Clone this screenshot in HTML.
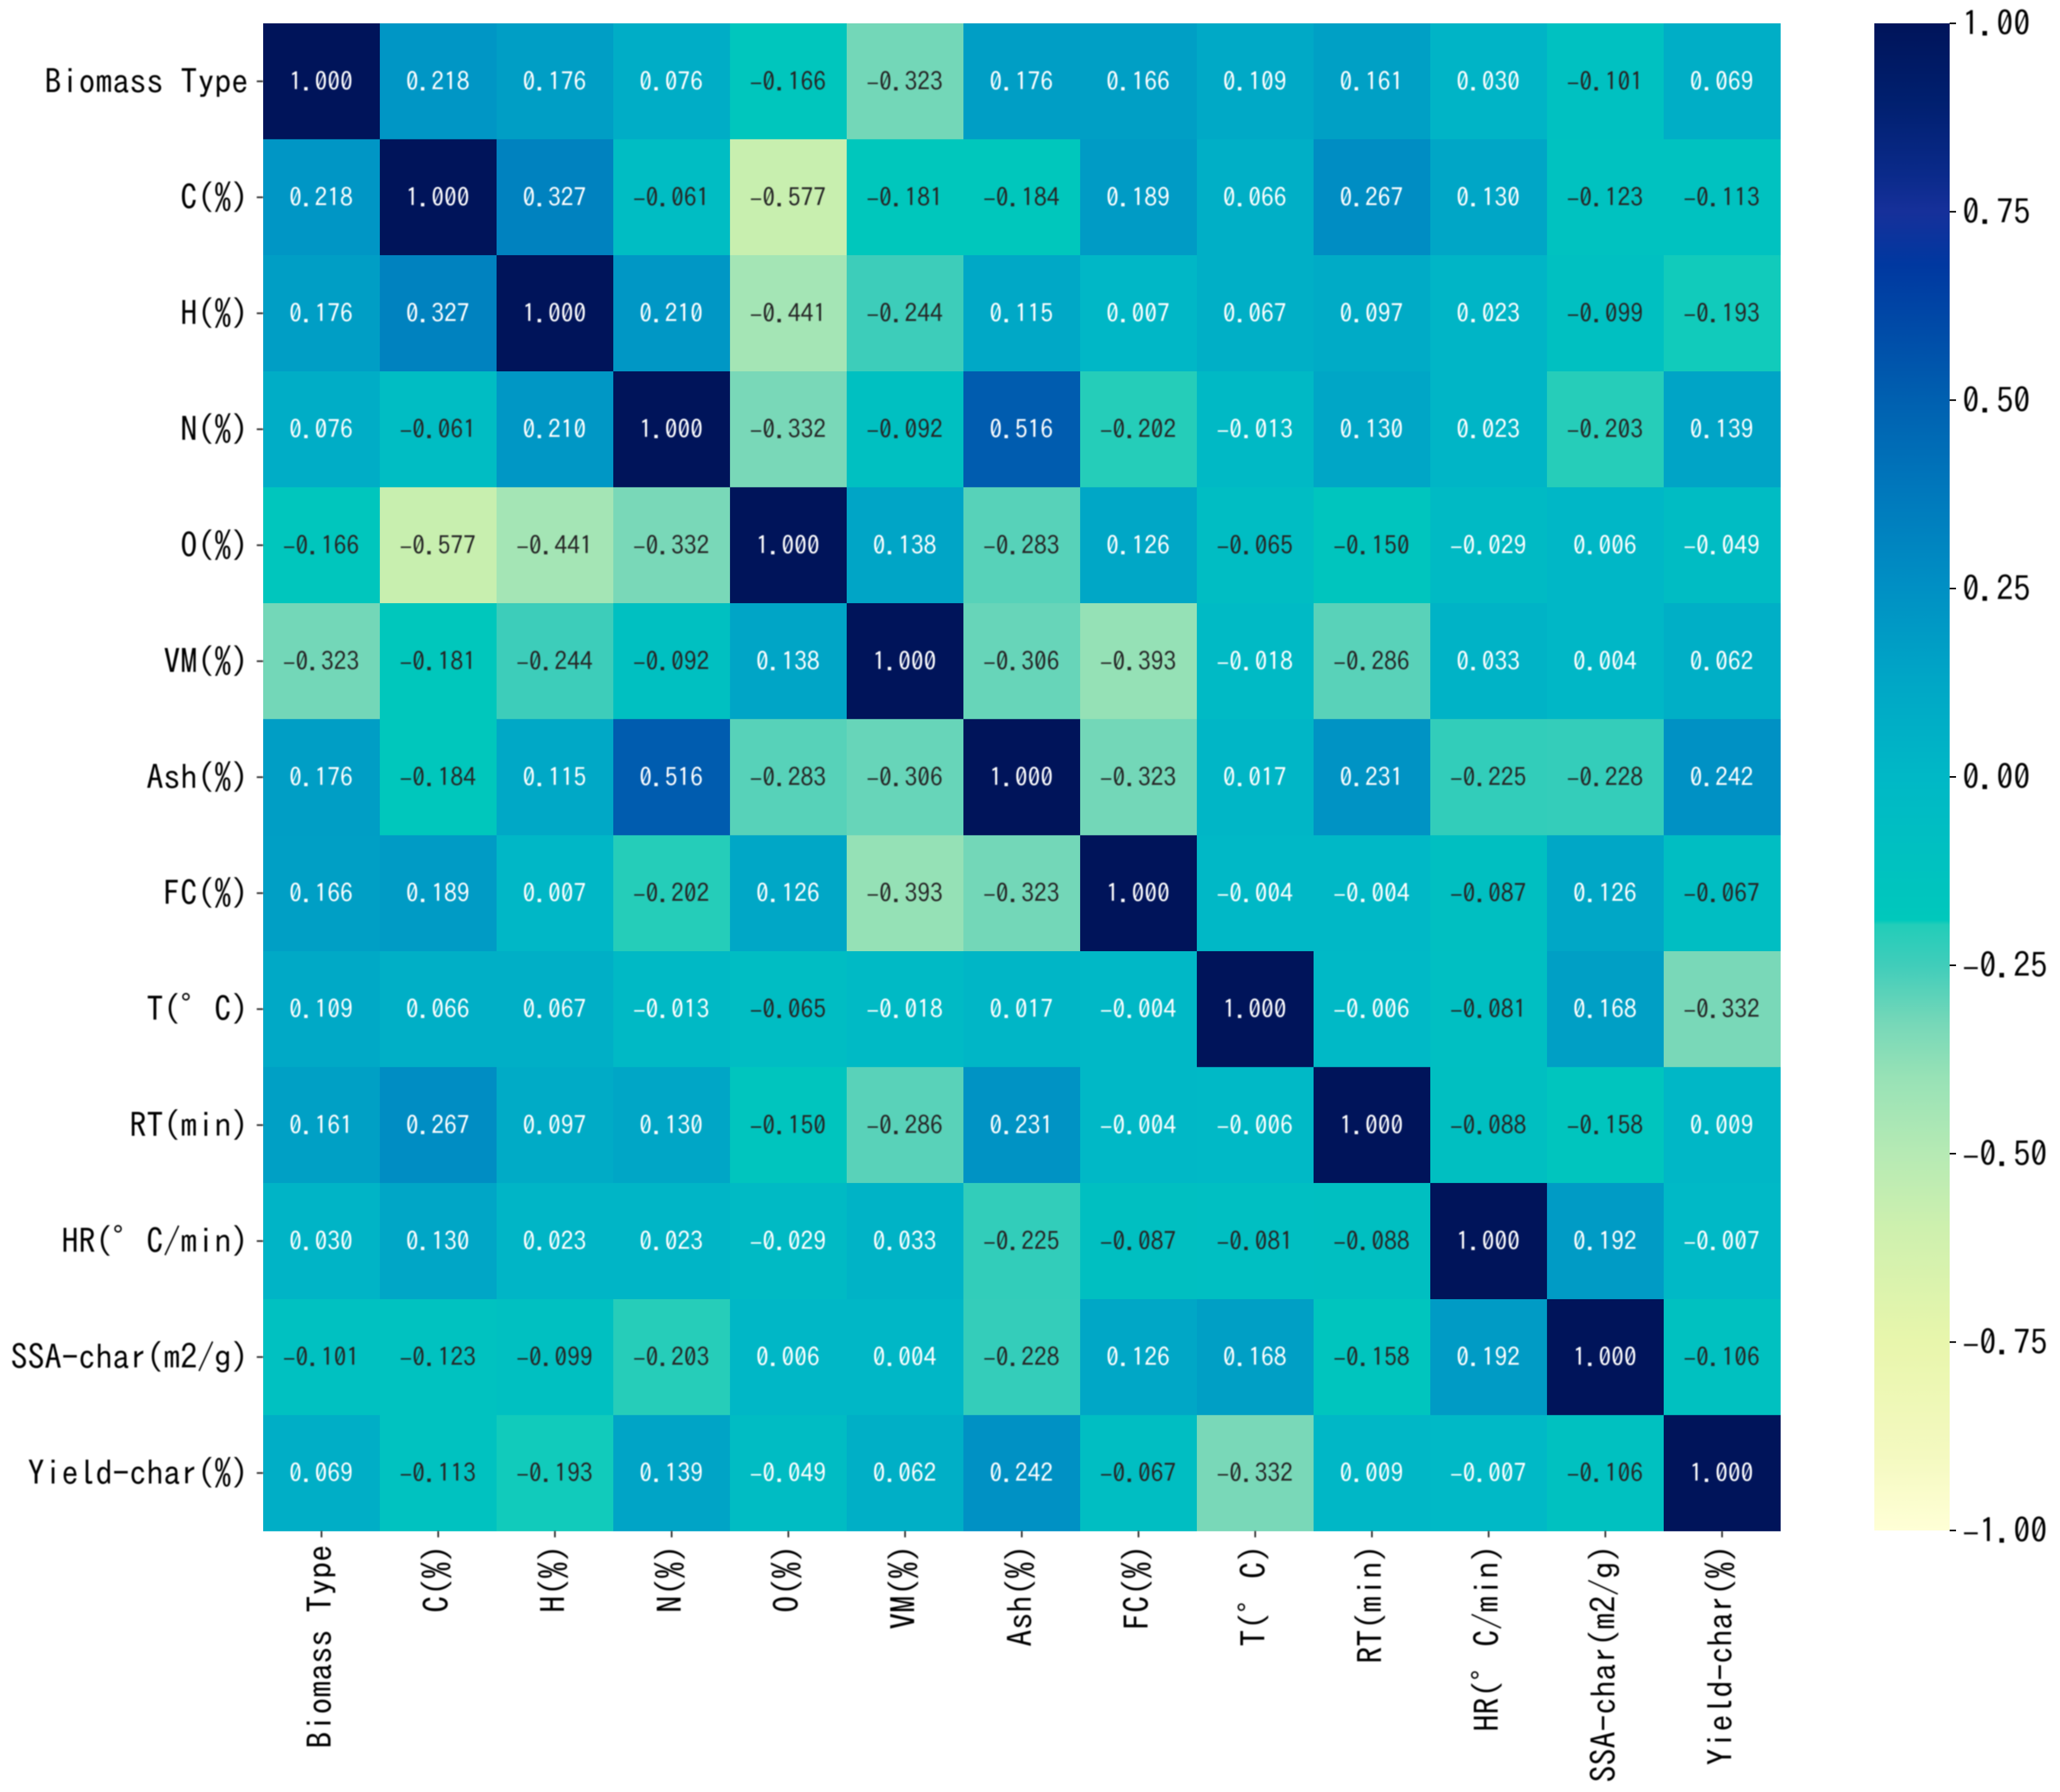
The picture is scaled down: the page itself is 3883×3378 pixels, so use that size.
<!DOCTYPE html>
<html>
<head>
<meta charset="utf-8">
<style>
html,body{margin:0;padding:0;background:#fff;width:3883px;height:3378px;overflow:hidden}
svg{display:block}
text{font-family:"IPAGothic","Liberation Mono","Noto Sans CJK JP",monospace;fill:#000}
#annots,#yaxis,#xaxis{filter:blur(1px)}
#cbar text{filter:blur(1px)}
</style>
</head>
<body>
<svg id="chart" xmlns="http://www.w3.org/2000/svg" width="3883" height="3378" viewBox="0 0 3883 3378">
<defs><linearGradient id="cbar-gradient" x1="0" y1="1" x2="0" y2="0"></linearGradient></defs>
<rect x="0" y="0" width="3883" height="3378" fill="#ffffff"/>
<g id="cells"></g>
<g id="annots"></g>
<g id="yaxis"></g>
<g id="xaxis"></g>
<g id="cbar"></g>
</svg>
<script>
const categories = ["Biomass Type","C(%)","H(%)","N(%)","O(%)","VM(%)","Ash(%)","FC(%)","T(°C)","RT(min)","HR(°C/min)","SSA-char(m2/g)","Yield-char(%)"];
const rowBiomass = [1.000,0.218,0.176,0.076,-0.166,-0.323,0.176,0.166,0.109,0.161,0.030,-0.101,0.069];
const rowC = [0.218,1.000,0.327,-0.061,-0.577,-0.181,-0.184,0.189,0.066,0.267,0.130,-0.123,-0.113];
const rowH = [0.176,0.327,1.000,0.210,-0.441,-0.244,0.115,0.007,0.067,0.097,0.023,-0.099,-0.193];
const rowN = [0.076,-0.061,0.210,1.000,-0.332,-0.092,0.516,-0.202,-0.013,0.130,0.023,-0.203,0.139];
const rowO = [-0.166,-0.577,-0.441,-0.332,1.000,0.138,-0.283,0.126,-0.065,-0.150,-0.029,0.006,-0.049];
const rowVM = [-0.323,-0.181,-0.244,-0.092,0.138,1.000,-0.306,-0.393,-0.018,-0.286,0.033,0.004,0.062];
const rowAsh = [0.176,-0.184,0.115,0.516,-0.283,-0.306,1.000,-0.323,0.017,0.231,-0.225,-0.228,0.242];
const rowFC = [0.166,0.189,0.007,-0.202,0.126,-0.393,-0.323,1.000,-0.004,-0.004,-0.087,0.126,-0.067];
const rowT = [0.109,0.066,0.067,-0.013,-0.065,-0.018,0.017,-0.004,1.000,-0.006,-0.081,0.168,-0.332];
const rowRT = [0.161,0.267,0.097,0.130,-0.150,-0.286,0.231,-0.004,-0.006,1.000,-0.088,-0.158,0.009];
const rowHR = [0.030,0.130,0.023,0.023,-0.029,0.033,-0.225,-0.087,-0.081,-0.088,1.000,0.192,-0.007];
const rowSSA = [-0.101,-0.123,-0.099,-0.203,0.006,0.004,-0.228,0.126,0.168,-0.158,0.192,1.000,-0.106];
const rowYield = [0.069,-0.113,-0.193,0.139,-0.049,0.062,0.242,-0.067,-0.332,0.009,-0.007,-0.106,1.000];
const matrix = [rowBiomass,rowC,rowH,rowN,rowO,rowVM,rowAsh,rowFC,rowT,rowRT,rowHR,rowSSA,rowYield];
const colorbarTicks = [1.00,0.75,0.50,0.25,0.00,-0.25,-0.50,-0.75,-1.00];
const cmapValues = [-1,-0.9,-0.75,-0.6,-0.5,-0.4,-0.33,-0.25,-0.196,-0.19,0,0.13,0.25,0.38,0.5,0.68,0.75,0.8,0.9,1];
const cmapColors = ["#ffffd6","#f4f9c0","#e8f6ac","#cef0ae","#b6eab4","#98e2b6","#78d8b8","#40cdba","#22cdb9","#00c8bc","#00b8c6","#00a6c6","#0090c4","#0078bc","#0060b0","#0038a0","#16309a","#0a2a8a","#001f6e","#00145a"];

const NS = "http://www.w3.org/2000/svg";
const plotLeft = 496, plotRight = 3356, plotTop = 44, plotBottom = 2886;
const barLeft = 3533, barRight = 3675, barTop = 44, barBottom = 2885;
const xScale = i => plotLeft + (plotRight - plotLeft) * i / categories.length;
const yScale = i => plotTop + (plotBottom - plotTop) * i / categories.length;
const barScale = v => barTop + (barBottom - barTop) * (1 - v) / 2;

function hexToRgb(h){return [1,3,5].map(p => parseInt(h.substr(p,2),16));}
function colorFor(v){
  let i = 0;
  while (i < cmapValues.length - 2 && v > cmapValues[i+1]) i++;
  const t = Math.max(0, Math.min(1, (v - cmapValues[i]) / (cmapValues[i+1] - cmapValues[i])));
  const a = hexToRgb(cmapColors[i]), b = hexToRgb(cmapColors[i+1]);
  return "rgb(" + a.map((c,k) => Math.round(c + (b[k]-c)*t)).join(",") + ")";
}
function make(tag, attrs){
  const el = document.createElementNS(NS, tag);
  for (const k in attrs) el.setAttribute(k, attrs[k]);
  return el;
}
/* minus glyphs come from a narrower font so each keeps a half-width cell */
function fillNumber(el, str, cell){
  if (str[0] === "\u2212") {
    const m = make("tspan", {"font-family":"Liberation Mono","font-size":cell/0.6});
    m.textContent = "\u2212";
    el.appendChild(m);
    const r = make("tspan", {});
    r.textContent = str.slice(1);
    el.appendChild(r);
  } else {
    el.textContent = str;
  }
}
function fmt(v, digits){
  const s = Math.abs(v).toFixed(digits);
  return v < 0 ? "\u2212" + s : s;
}

const cellsG = document.getElementById("cells");
const annotsG = document.getElementById("annots");
matrix.forEach((row, r) => {
  row.forEach((v, c) => {
    const rect = make("rect", {x:xScale(c), y:yScale(r), width:xScale(c+1)-xScale(c)+0.5, height:yScale(r+1)-yScale(r)+0.5, fill:colorFor(v), "shape-rendering":"crispEdges"});
    
    
    cellsG.appendChild(rect);
    const t = make("text", {x:xScale(c+0.5)-1, y:yScale(r+0.5)+17, "font-size":48, "text-anchor":"middle", style:"fill:" + (v >= -0.055 ? "#ffffff" : "#262626")});
    
    
    fillNumber(t, fmt(v,3), 24);
    annotsG.appendChild(t);
  });
});

const yG = document.getElementById("yaxis");
const xG = document.getElementById("xaxis");
categories.forEach((name, i) => {
  const yc = yScale(i+0.5), xc = xScale(i+0.5);
  const yt = make("line", {x1:plotLeft-12, x2:plotLeft, y1:yc, y2:yc, stroke:"#222", "stroke-width":3});
  
  
  yG.appendChild(yt);
  const yl = make("text", {x:468, y:yc+23, "font-size":64, "text-anchor":"end"});
  
  
  yl.textContent = name;
  yG.appendChild(yl);
  const xt = make("line", {x1:xc, x2:xc, y1:plotBottom, y2:plotBottom+12, stroke:"#222", "stroke-width":3});
  
  
  xG.appendChild(xt);
  const xl = make("text", {transform:"translate(" + (xc+20) + ",2912) rotate(-90)", "font-size":64, "text-anchor":"end"});
  
  
  xl.textContent = name;
  xG.appendChild(xl);
});

const grad = document.getElementById("cbar-gradient");
cmapValues.forEach((v, i) => {
  const s = make("stop", {offset:(v+1)/2, "stop-color":cmapColors[i]});
  grad.appendChild(s);
});
const cbarG = document.getElementById("cbar");
const barRect = make("rect", {x:barLeft, y:barTop, width:barRight-barLeft, height:barBottom-barTop, fill:"url(#cbar-gradient)"});


cbarG.appendChild(barRect);
colorbarTicks.forEach(v => {
  const y = barScale(v);
  const tick = make("line", {x1:barRight, x2:barRight+12, y1:y, y2:y, stroke:"#000", "stroke-width":3});
  
  
  cbarG.appendChild(tick);
  const label = make("text", {x:3699, y:y+23, "font-size":64});
  
  
  fillNumber(label, fmt(v,2), 32);
  cbarG.appendChild(label);
});
</script>
</body>
</html>
